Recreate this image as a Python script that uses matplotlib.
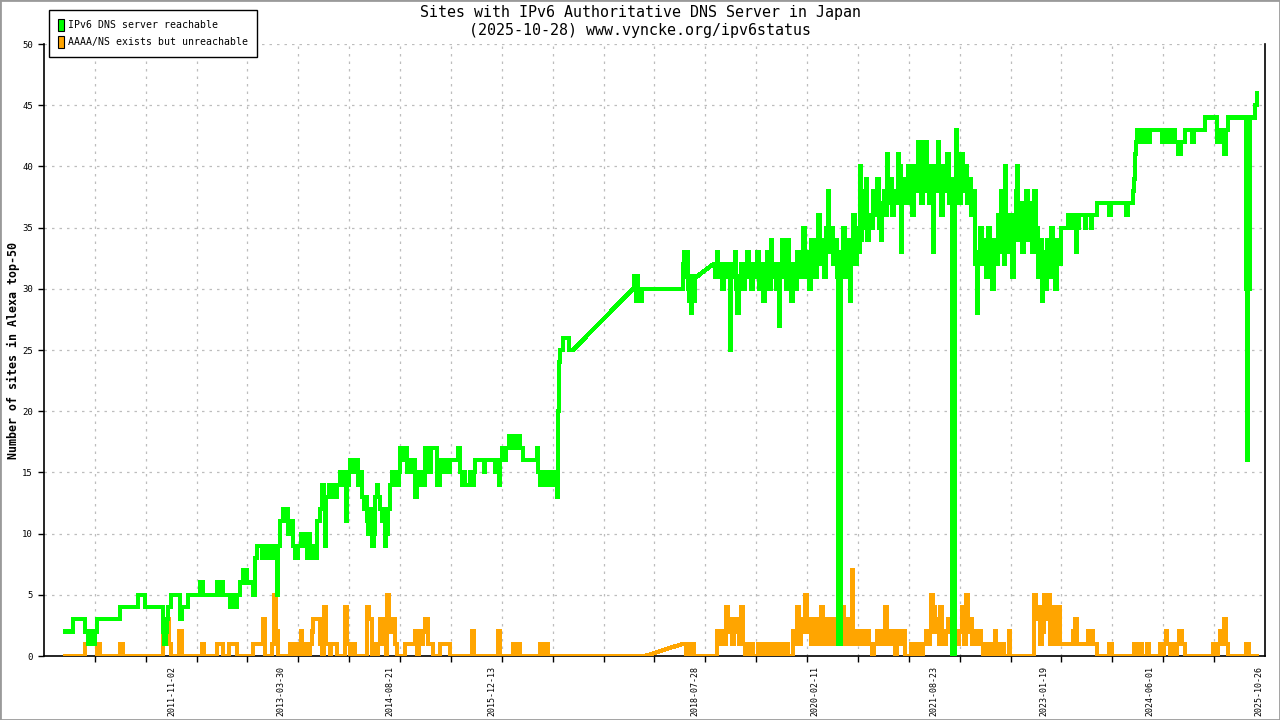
#!/usr/bin/env python3
import matplotlib
matplotlib.use('Agg')
import matplotlib.dates as mdates
import matplotlib.pyplot as plt
import numpy as np
from matplotlib.patches import Patch, Rectangle

# Dates are decimal years; each series is split where the log has a gap
# (the original graph just draws a straight line across those gaps).
green_a_years = [
    2010.446, 2010.562, 2010.717, 2010.755, 2010.781, 2010.807, 2010.845, 2010.871,
    2011.167, 2011.398, 2011.489, 2011.720, 2011.733, 2011.759, 2011.772, 2011.785,
    2011.823, 2011.939, 2011.965, 2012.042, 2012.196, 2012.235, 2012.415, 2012.441,
    2012.467, 2012.492, 2012.582, 2012.621, 2012.634, 2012.672, 2012.711, 2012.750,
    2012.801, 2012.878, 2012.904, 2012.930, 2012.994, 2013.020, 2013.059, 2013.098,
    2013.136, 2013.161, 2013.187, 2013.200, 2013.226, 2013.264, 2013.290, 2013.316,
    2013.328, 2013.367, 2013.393, 2013.419, 2013.457, 2013.496, 2013.522, 2013.547,
    2013.573, 2013.599, 2013.612, 2013.637, 2013.663, 2013.689, 2013.702, 2013.740,
    2013.766, 2013.792, 2013.805, 2013.818, 2013.856, 2013.882, 2013.907, 2013.933,
    2013.959, 2013.997, 2014.036, 2014.062, 2014.075, 2014.088, 2014.113, 2014.126,
    2014.178, 2014.191, 2014.229, 2014.255, 2014.281, 2014.306, 2014.332, 2014.345,
    2014.358, 2014.384, 2014.397, 2014.410, 2014.435, 2014.448, 2014.474, 2014.487,
    2014.513, 2014.538, 2014.564, 2014.577, 2014.590, 2014.615, 2014.641, 2014.667,
    2014.692, 2014.718, 2014.744, 2014.757, 2014.770, 2014.821, 2014.847, 2014.860,
    2014.885, 2014.911, 2014.937, 2014.963, 2014.989, 2015.001, 2015.027, 2015.053,
    2015.078, 2015.091, 2015.143, 2015.168, 2015.246, 2015.284, 2015.323, 2015.349,
    2015.374, 2015.413, 2015.515, 2015.541, 2015.567, 2015.593, 2015.606, 2015.670,
    2015.696, 2015.722, 2015.735, 2015.850, 2015.863, 2015.992, 2016.018, 2016.043,
    2016.056, 2016.082, 2016.121, 2016.134, 2016.172, 2016.211, 2016.236, 2016.275,
    2016.288, 2016.314, 2016.352, 2016.533, 2016.545, 2016.571, 2016.610, 2016.635,
    2016.661, 2016.674, 2016.700, 2016.738, 2016.777, 2016.790, 2016.803, 2016.816,
    2016.828, 2016.867, 2016.944, 2016.996,
]
green_a_values = [
    2, 3, 2, 1, 2, 1, 2, 3,
    4, 5, 4, 2, 1, 2, 3, 4,
    5, 3, 4, 5, 6, 5, 6, 5,
    6, 5, 4, 5, 4, 5, 6, 7,
    6, 5, 8, 9, 8, 9, 8, 9,
    8, 9, 5, 9, 11, 12, 11, 12,
    10, 11, 9, 8, 9, 10, 9, 10,
    8, 10, 9, 8, 9, 8, 11, 12,
    14, 13, 9, 13, 14, 13, 14, 13,
    14, 15, 14, 15, 11, 14, 15, 16,
    15, 16, 14, 15, 13, 12, 13, 11,
    10, 12, 10, 9, 10, 13, 14, 13,
    12, 11, 12, 9, 10, 12, 14, 15,
    14, 15, 14, 15, 17, 16, 17, 15,
    16, 15, 16, 13, 14, 15, 14, 15,
    14, 17, 15, 17, 14, 16, 15, 16,
    15, 16, 17, 15, 14, 15, 14, 15,
    14, 15, 16, 15, 16, 15, 16, 14,
    16, 17, 16, 17, 18, 17, 18, 17,
    18, 17, 16, 17, 15, 14, 15, 14,
    15, 14, 15, 14, 15, 13, 20, 24,
    25, 26, 25, 25,
]

green_b_years = [
    2017.768, 2017.780, 2017.806, 2017.819, 2017.832, 2017.857, 2017.883, 2018.411,
    2018.424, 2018.450, 2018.462, 2018.475, 2018.488, 2018.501, 2018.514, 2018.527,
    2018.540, 2018.552, 2018.565, 2018.591,
]
green_b_values = [
    30, 31, 29, 31, 30, 29, 30, 32,
    33, 31, 33, 30, 29, 31, 28, 30,
    31, 29, 31, 31,
]

green_c_years = [
    2018.797, 2018.823, 2018.849, 2018.862, 2018.887, 2018.913, 2018.938, 2018.964,
    2018.990, 2019.016, 2019.029, 2019.054, 2019.080, 2019.093, 2019.106, 2019.131,
    2019.157, 2019.183, 2019.209, 2019.234, 2019.260, 2019.286, 2019.312, 2019.337,
    2019.363, 2019.389, 2019.415, 2019.440, 2019.466, 2019.492, 2019.518, 2019.543,
    2019.556, 2019.582, 2019.608, 2019.633, 2019.646, 2019.659, 2019.685, 2019.710,
    2019.736, 2019.749, 2019.775, 2019.801, 2019.826, 2019.852, 2019.878, 2019.904,
    2019.929, 2019.955, 2019.981, 2020.007, 2020.032, 2020.058, 2020.084, 2020.109,
    2020.135, 2020.148, 2020.174, 2020.199, 2020.225, 2020.251, 2020.277, 2020.290,
    2020.315, 2020.341, 2020.367, 2020.393, 2020.405, 2020.444, 2020.470, 2020.495,
    2020.521, 2020.547, 2020.560, 2020.572, 2020.598, 2020.624, 2020.650, 2020.675,
    2020.688, 2020.701, 2020.714, 2020.740, 2020.766, 2020.778, 2020.804, 2020.830,
    2020.856, 2020.881, 2020.907, 2020.933, 2020.958, 2020.971, 2020.997, 2021.023,
    2021.036, 2021.049, 2021.074, 2021.100, 2021.126, 2021.152, 2021.177, 2021.190,
    2021.203, 2021.216, 2021.229, 2021.254, 2021.280, 2021.306, 2021.332, 2021.357,
    2021.383, 2021.409, 2021.435, 2021.447, 2021.473, 2021.499, 2021.512, 2021.537,
    2021.550, 2021.576, 2021.602, 2021.627, 2021.640, 2021.666, 2021.692, 2021.705,
    2021.730, 2021.756, 2021.782, 2021.808, 2021.833, 2021.859, 2021.872, 2021.911,
    2021.924, 2021.937, 2021.962, 2021.988, 2022.014, 2022.039, 2022.065, 2022.091,
    2022.117, 2022.142, 2022.168, 2022.194, 2022.207, 2022.232, 2022.258, 2022.284,
    2022.310, 2022.335, 2022.361, 2022.387, 2022.412, 2022.438, 2022.464, 2022.490,
    2022.503, 2022.516, 2022.541, 2022.554, 2022.567, 2022.593, 2022.618, 2022.644,
    2022.670, 2022.696, 2022.709, 2022.721, 2022.747, 2022.773, 2022.798, 2022.824,
    2022.850, 2022.876, 2022.901, 2022.927, 2022.953, 2022.979, 2023.004, 2023.030,
    2023.043, 2023.069, 2023.094, 2023.120, 2023.146, 2023.172, 2023.197, 2023.223,
    2023.249, 2023.274, 2023.364, 2023.416, 2023.442, 2023.467, 2023.480, 2023.506,
    2023.583, 2023.596, 2023.660, 2023.673, 2023.738, 2023.892, 2023.918, 2024.111,
    2024.136, 2024.201, 2024.214, 2024.227, 2024.240, 2024.253, 2024.291, 2024.317,
    2024.342, 2024.381, 2024.394, 2024.419, 2024.574, 2024.600, 2024.626, 2024.664,
    2024.690, 2024.716, 2024.741, 2024.780, 2024.819, 2024.870, 2024.960, 2024.986,
    2025.127, 2025.282, 2025.307, 2025.346, 2025.372, 2025.397, 2025.423, 2025.655,
    2025.668, 2025.681, 2025.706, 2025.771, 2025.797, 2025.822,
]
green_c_values = [
    32, 31, 33, 31, 32, 30, 32, 31,
    32, 25, 31, 32, 33, 30, 28, 31,
    32, 30, 32, 33, 31, 30, 32, 31,
    33, 30, 32, 29, 31, 33, 30, 34,
    31, 32, 30, 32, 27, 31, 34, 32,
    30, 34, 31, 29, 32, 30, 33, 31,
    32, 35, 31, 33, 30, 34, 32, 31,
    34, 36, 32, 34, 31, 35, 38, 33,
    35, 32, 34, 31, 1, 33, 35, 31,
    34, 32, 29, 33, 36, 32, 35, 33,
    40, 34, 38, 35, 39, 34, 36, 35,
    38, 36, 39, 35, 34, 37, 38, 36,
    41, 37, 39, 36, 38, 37, 41, 38,
    40, 33, 37, 39, 37, 40, 38, 36,
    40, 38, 42, 39, 37, 42, 38, 42,
    39, 37, 40, 33, 38, 40, 42, 38,
    36, 40, 38, 41, 37, 39, 0, 38,
    43, 39, 37, 41, 38, 40, 37, 39,
    36, 38, 32, 28, 33, 35, 32, 34,
    31, 35, 33, 30, 34, 32, 36, 33,
    38, 34, 32, 40, 35, 33, 36, 31,
    34, 38, 40, 34, 37, 33, 36, 38,
    34, 37, 33, 38, 35, 31, 34, 29,
    33, 30, 34, 31, 35, 32, 30, 34,
    32, 35, 36, 35, 36, 33, 35, 36,
    35, 36, 35, 36, 37, 36, 37, 36,
    37, 38, 39, 41, 42, 43, 42, 43,
    42, 43, 42, 43, 42, 43, 42, 43,
    42, 43, 42, 41, 42, 43, 42, 43,
    44, 42, 43, 42, 41, 43, 44, 30,
    16, 30, 44, 45, 46, 46,
]

orange_a_years = [
    2010.446, 2010.717, 2010.871, 2010.884, 2010.910, 2011.167, 2011.206, 2011.720,
    2011.746, 2011.772, 2011.797, 2011.823, 2011.926, 2011.965, 2012.222, 2012.248,
    2012.415, 2012.492, 2012.569, 2012.672, 2012.878, 2013.007, 2013.033, 2013.123,
    2013.148, 2013.174, 2013.200, 2013.354, 2013.380, 2013.406, 2013.432, 2013.444,
    2013.470, 2013.496, 2013.509, 2013.534, 2013.560, 2013.586, 2013.612, 2013.637,
    2013.650, 2013.740, 2013.766, 2013.792, 2013.818, 2013.869, 2013.882, 2013.959,
    2014.062, 2014.088, 2014.126, 2014.152, 2014.191, 2014.345, 2014.371, 2014.410,
    2014.435, 2014.461, 2014.487, 2014.513, 2014.564, 2014.590, 2014.602, 2014.628,
    2014.654, 2014.680, 2014.705, 2014.731, 2014.834, 2014.963, 2014.989, 2015.014,
    2015.040, 2015.066, 2015.091, 2015.130, 2015.194, 2015.284, 2015.413, 2015.696,
    2015.722, 2016.030, 2016.056, 2016.224, 2016.249, 2016.275, 2016.314, 2016.571,
    2016.597, 2016.635, 2016.674, 2017.922,
]
orange_a_values = [
    0, 1, 0, 1, 0, 1, 0, 2,
    1, 3, 1, 0, 2, 0, 1, 0,
    1, 0, 1, 0, 1, 3, 0, 1,
    5, 2, 0, 1, 0, 1, 0, 1,
    0, 2, 1, 0, 1, 0, 1, 2,
    3, 1, 0, 4, 1, 0, 1, 0,
    4, 1, 0, 1, 0, 4, 3, 0,
    1, 0, 1, 3, 1, 0, 5, 3,
    2, 3, 1, 0, 1, 2, 0, 2,
    1, 2, 3, 1, 0, 1, 0, 2,
    0, 2, 0, 1, 0, 1, 0, 1,
    0, 1, 0, 0,
]

orange_b_years = [
    2018.411, 2018.450, 2018.475, 2018.501, 2018.527, 2018.552, 2018.849, 2018.874,
    2018.900, 2018.926, 2018.964, 2018.990, 2019.016, 2019.041, 2019.067, 2019.106,
    2019.131, 2019.157, 2019.183, 2019.209, 2019.234, 2019.260, 2019.286, 2019.312,
    2019.376, 2019.402, 2019.428, 2019.453, 2019.479, 2019.505, 2019.530, 2019.556,
    2019.582, 2019.608, 2019.633, 2019.659, 2019.685, 2019.710, 2019.736, 2019.762,
    2019.826, 2019.852, 2019.878, 2019.904, 2019.929, 2019.955, 2019.981, 2020.007,
    2020.032, 2020.058, 2020.084, 2020.109, 2020.135, 2020.161, 2020.187, 2020.212,
    2020.238, 2020.264, 2020.290, 2020.315, 2020.341, 2020.367, 2020.393, 2020.431,
    2020.457, 2020.482, 2020.508, 2020.534, 2020.560, 2020.585, 2020.598, 2020.624,
    2020.650, 2020.688, 2020.714, 2020.740, 2020.766, 2020.804, 2020.843, 2020.868,
    2020.907, 2020.933, 2020.958, 2020.997, 2021.010, 2021.036, 2021.061, 2021.087,
    2021.113, 2021.139, 2021.164, 2021.190, 2021.216, 2021.241, 2021.267, 2021.344,
    2021.370, 2021.396, 2021.422, 2021.447, 2021.473, 2021.499, 2021.537, 2021.563,
    2021.589, 2021.602, 2021.627, 2021.653, 2021.679, 2021.705, 2021.718, 2021.743,
    2021.769, 2021.795, 2021.820, 2021.846, 2021.872, 2021.911, 2021.937, 2021.962,
    2022.001, 2022.026, 2022.052, 2022.078, 2022.104, 2022.129, 2022.168, 2022.194,
    2022.219, 2022.245, 2022.271, 2022.297, 2022.322, 2022.348, 2022.374, 2022.425,
    2022.438, 2022.464, 2022.490, 2022.516, 2022.541, 2022.605, 2022.618, 2022.927,
    2022.953, 2022.979, 2023.004, 2023.030, 2023.056, 2023.081, 2023.107, 2023.133,
    2023.159, 2023.184, 2023.210, 2023.236, 2023.261, 2023.429, 2023.454, 2023.480,
    2023.622, 2023.635, 2023.673, 2023.686, 2023.738, 2023.892, 2023.931, 2024.214,
    2024.240, 2024.278, 2024.317, 2024.381, 2024.407, 2024.548, 2024.574, 2024.600,
    2024.626, 2024.638, 2024.677, 2024.703, 2024.741, 2024.767, 2024.793, 2024.831,
    2024.870, 2025.230, 2025.269, 2025.295, 2025.320, 2025.346, 2025.372, 2025.397,
    2025.423, 2025.655, 2025.694, 2025.822,
]
orange_b_values = [
    1, 0, 1, 0, 1, 0, 2, 1,
    2, 1, 4, 3, 2, 1, 3, 2,
    1, 4, 1, 0, 1, 0, 1, 0,
    1, 0, 1, 0, 1, 0, 1, 0,
    1, 0, 1, 0, 1, 0, 1, 0,
    2, 1, 4, 1, 3, 2, 5, 2,
    3, 1, 2, 3, 1, 2, 4, 1,
    2, 3, 1, 2, 3, 1, 2, 3,
    4, 1, 2, 3, 1, 7, 2, 1,
    2, 1, 2, 1, 2, 1, 0, 1,
    2, 1, 2, 1, 4, 1, 2, 1,
    2, 0, 1, 2, 1, 2, 0, 1,
    0, 1, 0, 1, 0, 1, 2, 1,
    2, 5, 4, 2, 3, 1, 4, 2,
    1, 2, 3, 2, 1, 2, 1, 2,
    4, 1, 5, 2, 3, 1, 2, 1,
    2, 1, 0, 1, 0, 1, 0, 2,
    0, 1, 0, 1, 0, 2, 0, 5,
    3, 4, 1, 2, 5, 3, 5, 1,
    4, 2, 1, 4, 1, 2, 3, 1,
    2, 1, 2, 1, 0, 1, 0, 1,
    0, 1, 0, 1, 0, 1, 0, 1,
    2, 1, 0, 1, 0, 1, 2, 1,
    0, 1, 0, 1, 2, 1, 3, 1,
    0, 1, 0, 0,
]

x_label_dates = ['2011-11-02', '2013-03-30', '2014-08-21', '2015-12-13', '2018-07-28',
                 '2020-02-11', '2021-08-23', '2023-01-19', '2024-06-01', '2025-10-26']
x_range = [2010.189, 2025.900]
y_ticks = list(range(0, 51, 5))

GREEN = '#00ff00'
ORANGE = '#ffa500'
MONO = 'DejaVu Sans Mono'


def to_dates(years):
    years = np.asarray(years, dtype=float)
    seconds = ((years - 2000.0) * 365.2425 * 86400).astype('int64')
    return np.datetime64('2000-01-01T00:00:00') + seconds.astype('timedelta64[s]')


def step_path(segments):
    # daily samples drawn as steps, gaps bridged with a straight line
    xs, ys = [], []
    for seg_x, seg_y in segments:
        for i, (x, y) in enumerate(zip(seg_x, seg_y)):
            if i > 0:
                xs.append(x)
                ys.append(seg_y[i - 1])
            xs.append(x)
            ys.append(y)
    return to_dates(xs), ys


def main():
    fig = plt.figure(figsize=(12.8, 7.2), dpi=100)
    ax = fig.add_axes([44 / 1280, 64 / 720, 1221 / 1280, 612 / 720])

    ox, oy = step_path([(orange_a_years, orange_a_values), (orange_b_years, orange_b_values)])
    gx, gy = step_path([(green_a_years, green_a_values), (green_b_years, green_b_values),
                        (green_c_years, green_c_values)])
    line_kw = dict(linewidth=2.3, solid_joinstyle='miter', solid_capstyle='butt', antialiased=False)
    ax.plot(ox, oy, color=ORANGE, zorder=3, **line_kw)
    ax.plot(gx, gy, color=GREEN, zorder=4, **line_kw)

    lo, hi = to_dates(x_range)
    ax.set_xlim(lo, hi)
    ax.set_ylim(0, 50)

    # grid: 24 equal columns, ticks at the column edges; date labels sit elsewhere
    lo_n, hi_n = mdates.date2num(lo), mdates.date2num(hi)
    ax.set_xticks(np.linspace(lo_n, hi_n, 25)[1:-1], minor=True)
    ax.set_xticks(mdates.date2num(np.array(x_label_dates, dtype='datetime64[D]')))
    ax.set_xticklabels(x_label_dates, rotation=90, family=MONO, fontsize=6.0)
    ax.tick_params(axis='x', which='major', length=0, pad=7)
    ax.tick_params(axis='x', which='minor', length=4, width=1, color='black', direction='out')

    ax.set_yticks(y_ticks)
    ax.set_yticklabels([str(v) for v in y_ticks], family=MONO, fontsize=6.5)
    ax.tick_params(axis='y', length=4, width=1, direction='out', pad=4)

    grid_kw = dict(color='#bdbdbd', linewidth=0.9, linestyle=(0, (2, 4)))
    ax.grid(True, axis='x', which='minor', **grid_kw)
    ax.grid(True, axis='y', which='major', **grid_kw)
    ax.set_axisbelow(True)

    ax.spines['top'].set_visible(False)
    for side in ('left', 'bottom', 'right'):
        ax.spines[side].set_linewidth(1.2)
        ax.spines[side].set_color('black')

    fig.text(0.5, 1 - 13 / 720, 'Sites with IPv6 Authoritative DNS Server in Japan',
             ha='center', va='center', family=MONO, fontsize=10.8)
    fig.text(0.5, 1 - 31 / 720, '(2025-10-28) www.vyncke.org/ipv6status',
             ha='center', va='center', family=MONO, fontsize=10.8)
    fig.text(13 / 1280, 1 - 350 / 720, 'Number of sites in Alexa top-50', rotation=90,
             ha='center', va='center', family=MONO, fontsize=8.4, fontweight='bold')

    handles = [Patch(facecolor=GREEN, edgecolor='black', linewidth=0.8),
               Patch(facecolor=ORANGE, edgecolor='black', linewidth=0.8)]
    leg = fig.legend(handles, ['IPv6 DNS server reachable', 'AAAA/NS exists but unreachable'],
                     loc='upper left', bbox_to_anchor=(49 / 1280, 1 - 10 / 720),
                     prop={'family': MONO, 'size': 7.1}, fancybox=False, framealpha=1,
                     edgecolor='black', handlelength=0.6, handleheight=1.5,
                     handletextpad=0.4, labelspacing=0.5, borderpad=0.9, borderaxespad=0)
    leg.get_frame().set_linewidth(1)

    fig.patches.append(Rectangle((0, 0), 1, 1, transform=fig.transFigure, fill=False,
                                 edgecolor='#9a9a9a', linewidth=2))

    fig.savefig('out.png', dpi=100)


if __name__ == '__main__':
    main()
